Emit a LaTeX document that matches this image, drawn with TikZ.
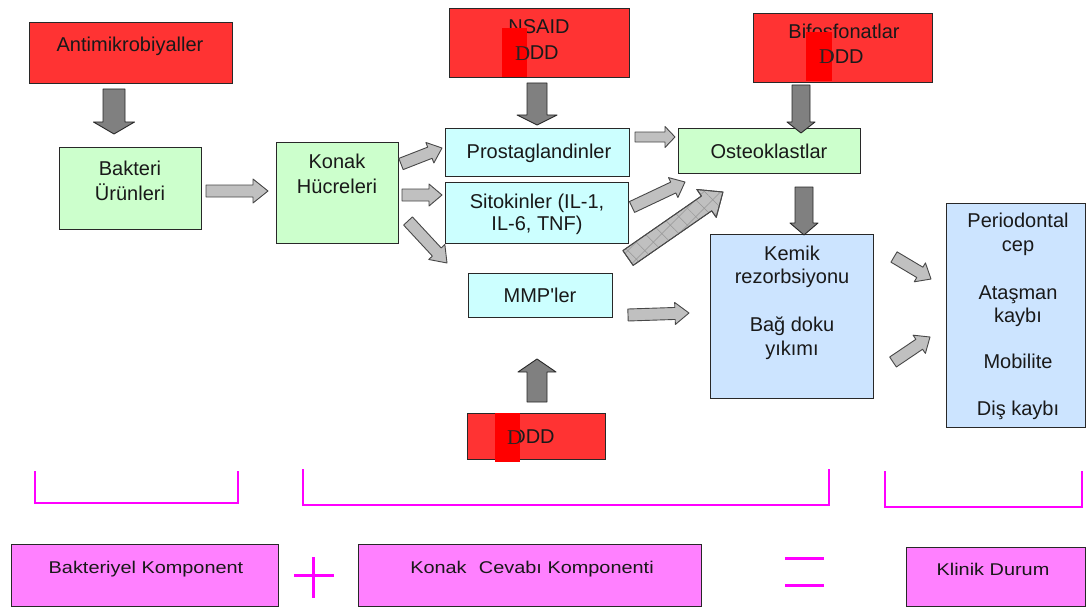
\documentclass[tikz,border=0pt]{standalone}
\usepackage{fontspec}
\setmainfont{Liberation Sans}
\newfontfamily\plainsans{Liberation Sans}
\newfontfamily\serifD{Liberation Serif}
\newfontfamily\widesans[FakeStretch=1.17]{Liberation Sans}
\usetikzlibrary{calc,patterns.meta}
\definecolor{redbox}{RGB}{255,51,51}
\definecolor{patchred}{RGB}{255,0,0}
\definecolor{greenbox}{RGB}{204,255,204}
\definecolor{cyanbox}{RGB}{204,255,255}
\definecolor{bluebox}{RGB}{204,228,255}
\definecolor{pinkbox}{RGB}{255,128,255}
\definecolor{magline}{RGB}{255,0,255}
\definecolor{darkarrow}{RGB}{128,128,128}
\definecolor{lightarrow}{RGB}{192,192,192}
\definecolor{hatchline}{RGB}{150,150,150}
\definecolor{edge}{RGB}{40,40,40}
\definecolor{ink}{RGB}{25,25,25}
\newcommand\blockarrow[6]{%
  \draw[#1] let \p1=(#2), \p2=(#3), \n1={atan2(\y2-\y1,\x2-\x1)}, \n2={veclen(\x2-\x1,\y2-\y1)} in
  [shift={(\p1)}, rotate=\n1]
  (0,#4) -- ({\n2-#6},#4) -- ({\n2-#6},#5) -- (\n2,0) -- ({\n2-#6},-#5) -- ({\n2-#6},-#4) -- (0,-#4) -- cycle;}
\tikzset{
  box/.style={draw=edge, line width=1.1pt, inner sep=0pt, anchor=north west},
  redb/.style={box, fill=redbox},
  greenb/.style={box, fill=greenbox},
  cyanb/.style={box, fill=cyanbox},
  blueb/.style={box, fill=bluebox},
  pinkb/.style={box, fill=pinkbox},
  txt/.style={anchor=base, inner sep=0pt, text=ink, font=\fontsize{20}{24}\selectfont},
  btxt/.style={anchor=base, inner sep=0pt, text=ink, font=\widesans\fontsize{17}{20}\selectfont},
  serifd/.style={anchor=base west, inner sep=0pt, text=black!85, font=\serifD\fontsize{21}{24}\selectfont},
  darr/.style={fill=darkarrow, draw=edge, line width=0.9pt, line join=round},
  larr/.style={fill=lightarrow, draw=edge!85, line width=0.9pt, line join=round},
  harr/.style={fill=lightarrow, draw=edge!85, line width=0.9pt, line join=round,
               postaction={pattern={Lines[angle=45,distance=12pt,line width=0.5pt]}, pattern color=hatchline},
               postaction={pattern={Lines[angle=-45,distance=12pt,line width=0.5pt]}, pattern color=hatchline},
               postaction={draw=edge!85, line width=0.9pt, line join=round}},
  brk/.style={draw=magline, line width=2.6pt, line join=miter},
  sign/.style={draw=magline, line width=3pt}
}
\begin{document}
\begin{tikzpicture}[x=1pt,y=-1pt]
\fill[white] (0,0) rectangle (1086,607);
\useasboundingbox (0,0) rectangle (1086,607);

% boxes
\node[redb, minimum width=203pt, minimum height=61pt] (anti) at (29,22) {};
\node[redb, minimum width=180pt, minimum height=69pt] (nsaid) at (449,8) {};
\node[redb, minimum width=179pt, minimum height=69pt] (bifo) at (753,13) {};
\node[greenb, minimum width=142pt, minimum height=82pt] (bakteri) at (59,147) {};
\node[greenb, minimum width=122pt, minimum height=101pt] (konak) at (276,142) {};
\node[cyanb, minimum width=184pt, minimum height=48pt] (prosta) at (445,128) {};
\node[cyanb, minimum width=183pt, minimum height=61pt] (sito) at (445,182) {};
\node[cyanb, minimum width=144pt, minimum height=44pt] (mmp) at (468,273) {};
\node[greenb, minimum width=182pt, minimum height=45pt] (osteo) at (678,128) {};
\node[blueb, minimum width=163pt, minimum height=164pt] (kemik) at (710,234) {};
\node[blueb, minimum width=139pt, minimum height=224pt] (perio) at (946,203) {};
\node[redb, minimum width=138pt, minimum height=46pt] (bdd) at (467,413) {};
\node[pinkb, minimum width=267pt, minimum height=62pt] (bkomp) at (11,544) {};
\node[pinkb, minimum width=343pt, minimum height=62pt] (kkomp) at (358,544) {};
\node[pinkb, minimum width=179pt, minimum height=59pt] (klinik) at (906,547) {};

% texts
\node[txt] (antiT) at (130,52) {Antimikrobiyaller};
\node[txt] (nsaidT) at (539,34) {NSAID};
\node[txt] (nsaidD) at (537,60) {DDD};
\node[txt] (bifoT) at (844,39) {Bifosfonatlar};
\node[txt] (bifoD) at (842,64) {DDD};
\node[txt] (bakT1) at (130,175) {Bakteri};
\node[txt] (bakT2) at (130,200) {Ürünleri};
\node[txt] (konT1) at (337,168) {Konak};
\node[txt] (konT2) at (337,193) {Hücreleri};
\node[txt] (prosT) at (539,158) {Prostaglandinler};
\node[txt] (sitT1) at (537,208) {Sitokinler (IL-1,};
\node[txt] (sitT2) at (537,230) {IL-6, TNF)};
\node[txt] (mmpT) at (540,302) {MMP{\plainsans '}ler};
\node[txt] (ostT) at (769,158) {Osteoklastlar};
\node[txt] (kemT1) at (792,260) {Kemik};
\node[txt] (kemT2) at (792,283) {rezorbsiyonu};
\node[txt] (kemT3) at (792,331) {Bağ doku};
\node[txt] (kemT4) at (792,355) {yıkımı};
\node[txt] (perT1) at (1018,227) {Periodontal};
\node[txt] (perT2) at (1018,251) {cep};
\node[txt] (perT3) at (1018,299) {Ataşman};
\node[txt] (perT4) at (1018,322) {kaybı};
\node[txt] (perT5) at (1018,368) {Mobilite};
\node[txt] (perT6) at (1018,415) {Diş kaybı};
\node[txt] (bddT) at (533,443) {DDD};
\node[btxt] (bkompT) at (146,573) {Bakteriyel Komponent};
\node[btxt] (kkompT) at (532,573) {Konak\hspace{0.4em} Cevabı Komponenti};
\node[btxt] (klinikT) at (993,575) {Klinik Durum};

% red patches with serif D
\fill[patchred] (502,28) rectangle (527,77);
\node[serifd] (nsaidSD) at (515,61) {D};
\fill[patchred] (806,32) rectangle (832,81);
\node[serifd] (bifoSD) at (819,64) {D};
\fill[patchred] (495,413) rectangle (520,462);
\node[serifd] (bddSD) at (507,444) {D};

% arrow end points
\coordinate (a1s) at (114,89);  \coordinate (a1e) at (114,134);
\coordinate (a2s) at (537,83);  \coordinate (a2e) at (537,125);
\coordinate (a3s) at (801,85);  \coordinate (a3e) at (801,133);
\coordinate (a4s) at (804,187); \coordinate (a4e) at (804,235);
\coordinate (a5s) at (537,402); \coordinate (a5e) at (537,359);
\coordinate (b1s) at (206,191); \coordinate (b1e) at (268,191);
\coordinate (b2s) at (401,164); \coordinate (b2e) at (442,148);
\coordinate (b3s) at (402,195); \coordinate (b3e) at (442,195);
\coordinate (b4s) at (408,221); \coordinate (b4e) at (447,263);
\coordinate (b5s) at (635,137); \coordinate (b5e) at (675,137);
\coordinate (b6s) at (632,207); \coordinate (b6e) at (685,182);
\coordinate (h1s) at (628,258); \coordinate (h1e) at (723,192);
\coordinate (b7s) at (628,315); \coordinate (b7e) at (689,313);
\coordinate (b8s) at (894,257); \coordinate (b8e) at (931,279);
\coordinate (b9s) at (893,362); \coordinate (b9e) at (930,337);

% dark arrows
\blockarrow{darr}{a1s}{a1e}{11}{20.5}{12}
\blockarrow{darr}{a2s}{a2e}{10}{20}{10}
\blockarrow{darr}{a3s}{a3e}{9}{14}{11}
\blockarrow{darr}{a4s}{a4e}{9}{14}{12}
\blockarrow{darr}{a5s}{a5e}{10}{19}{13}
% light arrows
\blockarrow{larr}{b1s}{b1e}{6}{12}{15}
\blockarrow{larr}{b2s}{b2e}{6}{11}{13}
\blockarrow{larr}{b3s}{b3e}{6}{11}{13}
\blockarrow{larr}{b4s}{b4e}{6}{11}{15}
\blockarrow{larr}{b5s}{b5e}{5}{10.5}{10}
\blockarrow{larr}{b6s}{b6e}{6}{11}{13}
\blockarrow{harr}{h1s}{h1e}{9}{17}{20}
\blockarrow{larr}{b7s}{b7e}{6}{11}{14}
\blockarrow{larr}{b8s}{b8e}{6}{11}{13}
\blockarrow{larr}{b9s}{b9e}{6}{11}{13}

% brackets
\draw[brk] (35,471) |- (238,503) -- (238,471);
\draw[brk] (303,469) |- (829,505) -- (829,469);
\draw[brk] (885,471) |- (1082,507) -- (1082,471);

% plus and equal signs
\draw[sign] (294,575) -- (334,575);
\draw[sign] (313,557) -- (313,598);
\draw[sign] (785,558) -- (824,558);
\draw[sign] (785,585) -- (824,585);
\end{tikzpicture}
\end{document}
